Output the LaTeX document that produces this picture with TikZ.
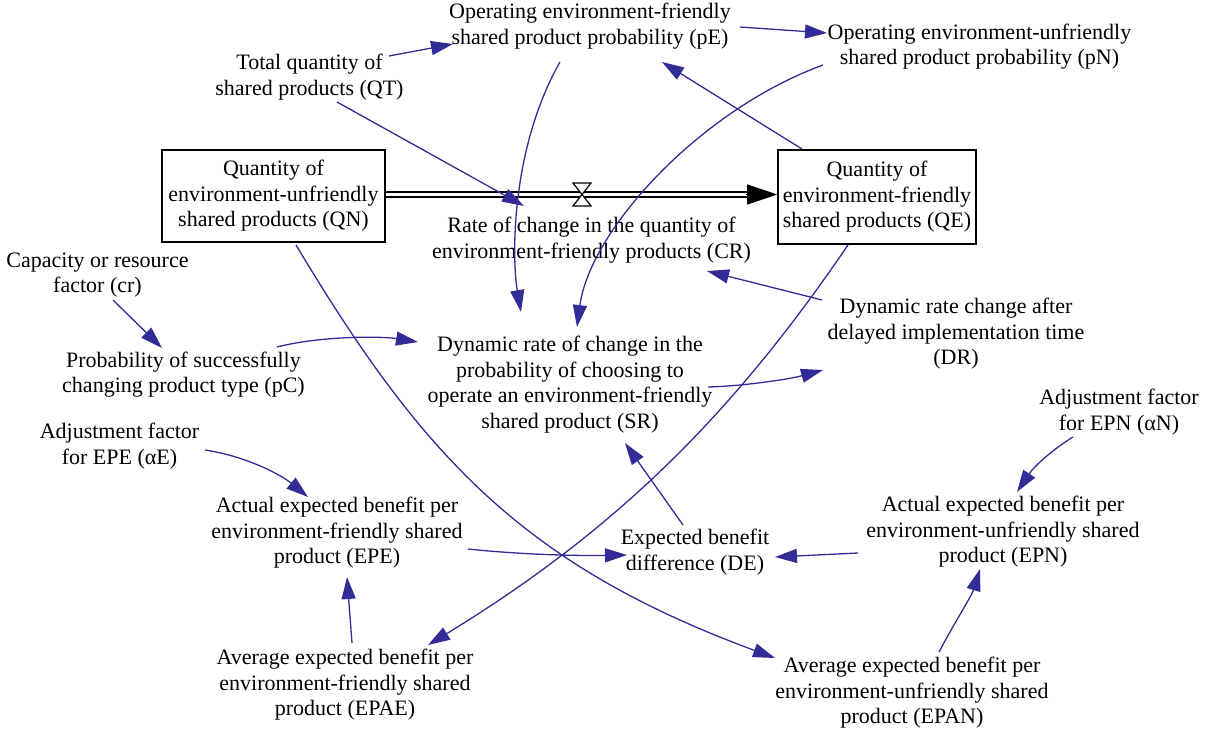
\documentclass[tikz,border=0pt]{standalone}
\usepackage{fontspec}
\setmainfont{Liberation Serif}
\usetikzlibrary{arrows.meta,calc}
\definecolor{lnk}{RGB}{50,44,150}
\begin{document}
\begin{tikzpicture}[x=1pt,y=-1pt,
  lbl/.style={align=center,inner sep=0pt,font=\fontsize{22}{25.5}\selectfont},
  stock/.style={lbl,draw,line width=1.6pt},
  link/.style={draw=lnk,line width=1.3pt,-{Triangle[length=22pt,width=14pt]}}
]
\useasboundingbox (0,0) rectangle (1210,733);

\node[lbl] (pE) at (590,26) {Operating environment-friendly\\shared product probability (pE)};
\node[lbl] (pN) at (979.5,46.5) {Operating environment-unfriendly\\shared product probability (pN)};
\node[lbl] (QT) at (309.5,77) {Total quantity of\\shared products (QT)};
\node[stock,minimum width=223pt,minimum height=92pt] (QN) at (273.5,196) {Quantity of\\environment-unfriendly\\shared products (QN)};
\node[stock,minimum width=198pt,minimum height=94pt] (QE) at (877,197) {Quantity of\\environment-friendly\\shared products (QE)};
\node[lbl] (CR) at (591.5,240) {Rate of change in the quantity of\\environment-friendly products (CR)};
\node[lbl] (cr) at (97.5,275) {Capacity or resource\\factor (cr)};
\node[lbl] (pC) at (183.5,374.5) {Probability of successfully\\changing product type (pC)};
\node[lbl] (DR) at (956,334) {Dynamic rate change after\\delayed implementation time\\(DR)};
\node[lbl] (SR) at (570,384.5) {Dynamic rate of change in the\\probability of choosing to\\operate an environment-friendly\\shared product (SR)};
\node[lbl] (aE) at (119.5,446) {Adjustment factor\\for EPE (αE)};
\node[lbl] (aN) at (1119,412) {Adjustment factor\\for EPN (αN)};
\node[lbl] (EPE) at (337,533) {Actual expected benefit per\\environment-friendly shared\\product (EPE)};
\node[lbl] (DE) at (695,552) {Expected benefit\\difference (DE)};
\node[lbl] (EPN) at (1003,532) {Actual expected benefit per\\environment-unfriendly shared\\product (EPN)};
\node[lbl] (EPAE) at (345,685) {Average expected benefit per\\environment-friendly shared\\product (EPAE)};
\node[lbl] (EPAN) at (912,693) {Average expected benefit per\\environment-unfriendly shared\\product (EPAN)};

% flow pipe with valve
\coordinate (valve) at (582,194.5);
\draw[line width=1.4pt,double distance=3.6pt] ($(QN.east)+(0,-1.5)$) -- ($(QE.west)+(-29,-2.5)$);
\draw[line width=1pt,-{Triangle[length=30pt,width=20pt]}] ($(QE.west)+(-31,-2.5)$) -- ($(QE.west)+(0,-2.5)$);
\filldraw[fill=white,line width=1.2pt] ($(valve)+(-9,-11.5)$) -- ($(valve)+(9,-11.5)$) -- ($(valve)+(-9,11.5)$) -- ($(valve)+(9,11.5)$) -- cycle;

% links
\draw[link] ($(QT)+(79.5,-21)$) -- ($(pE)+(-137,18)$);
\draw[link] ($(pE)+(150,1)$) -- ($(pN)+(-152.5,-13.5)$);
\draw[link] ($(QT)+(27.5,25)$) -- ($(CR)+(-67.5,-34)$);
\draw[link] ($(pE)+(-30,36)$) .. controls (510,150) and (512,260) .. ($(SR)+(-49,-72.5)$);
\draw[link] ($(pN)+(-156.5,18.5)$) .. controls (700,110) and (590,230) .. ($(SR)+(7,-57.5)$);
\draw[link] ($(QE)+(-75,-48)$) -- ($(pE)+(72,36)$);
\draw[link] ($(DR)+(-134,-34)$) -- ($(CR)+(115.5,31)$);
\draw[link] ($(QE)+(-29,48)$) .. controls (739,405) and (625,525) .. ($(EPAE)+(83,-40)$);
\draw[link] ($(QN)+(22.5,49)$) .. controls (424,459) and (525,565.5) .. ($(EPAN)+(-137,-35)$);
\draw[link] ($(cr)+(15.5,25)$) -- ($(pC)+(-21.5,-26.5)$);
\draw[link] ($(pC)+(93.5,-27.5)$) .. controls (320,336) and (380,336) .. ($(SR)+(-152,-42.5)$);
\draw[link] ($(SR)+(138,2.5)$) .. controls (745,386) and (790,379) .. ($(DR)+(-133,36)$);
\draw[link] ($(DE)+(-12,-27)$) -- ($(SR)+(55,58.5)$);
\draw[link] ($(aE)+(85.5,4)$) .. controls (245,456) and (280,474) .. ($(EPE)+(-29,-36)$);
\draw[link] ($(aN)+(-46,25)$) .. controls (1055,448) and (1035,465) .. ($(EPN)+(14,-40)$);
\draw[link] ($(EPE)+(131,16)$) .. controls (515,554) and (570,556) .. ($(DE)+(-68,3)$);
\draw[link] ($(EPN)+(-145,21)$) -- ($(DE)+(80,5)$);
\draw[link] ($(EPAE)+(7,-42)$) -- ($(EPE)+(10,44)$);
\draw[link] ($(EPAN)+(27,-41)$) .. controls (955,622) and (972,595) .. ($(EPN)+(-23,37)$);
\end{tikzpicture}
\end{document}
